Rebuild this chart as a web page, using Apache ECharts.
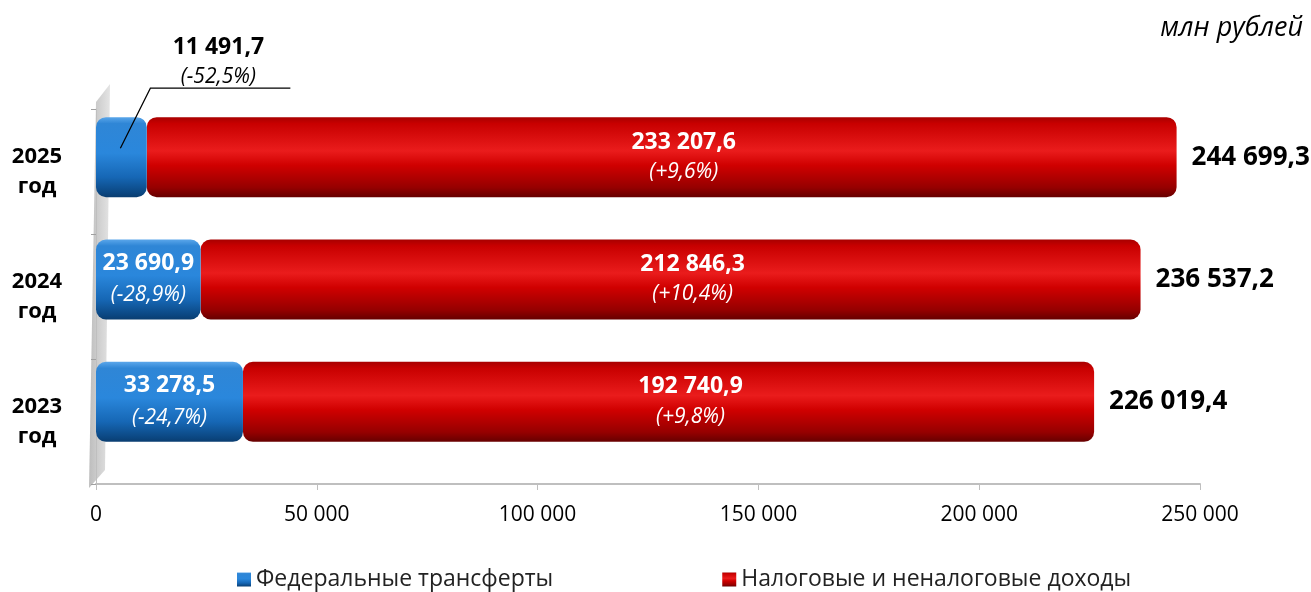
<!DOCTYPE html>
<html><head><meta charset="utf-8">
<script src="https://cdn.jsdelivr.net/npm/echarts@6/dist/echarts.min.js"></script>
<style>html,body{margin:0;padding:0;background:#fff}#c{width:1311px;height:592px}</style>
</head><body><div id="c"></div>
<script>
const categories = ['2023 год', '2024 год', '2025 год'];
const federal = [33278.5, 23690.9, 11491.7];
const federalChange = [-24.7, -28.9, -52.5];
const taxes = [192740.9, 212846.3, 233207.6];
const taxesChange = [9.8, 10.4, 9.6];
const xTicks = [0, 50000, 100000, 150000, 200000, 250000];
const seriesNames = ['Федеральные трансферты', 'Налоговые и неналоговые доходы'];
const unitLabel = 'млн рублей';

const FONT = '"Open Sans", "Noto Sans", sans-serif';
function fmt(v) {
  const s = v.toFixed(1).split('.');
  return s[0].replace(/\B(?=(\d{3})+(?!\d))/g, ' ') + ',' + s[1];
}
function pct(v) {
  return '(' + (v > 0 ? '+' : '') + v.toFixed(1).replace('.', ',') + '%)';
}
const totals = federal.map((v, i) => +(v + taxes[i]).toFixed(1));
const narrow = v => v < 20000;

const blueGrad = new echarts.graphic.LinearGradient(0, 0, 0, 1, [
  {offset: 0, color: '#5aa6ea'}, {offset: 0.08, color: '#2f86d6'},
  {offset: 0.45, color: '#2a87dc'}, {offset: 0.75, color: '#1667b5'},
  {offset: 0.95, color: '#0b4680'}, {offset: 1, color: '#0a3d70'}]);
const redGrad = new echarts.graphic.LinearGradient(0, 0, 0, 1, [
  {offset: 0, color: '#a80000'}, {offset: 0.08, color: '#c80000'},
  {offset: 0.42, color: '#ea1c1c'}, {offset: 0.6, color: '#d00000'},
  {offset: 0.88, color: '#960000'}, {offset: 1, color: '#660000'}]);

const chart = echarts.init(document.getElementById('c'), null, {renderer: 'canvas'});
const option = {
  animation: false,
  textStyle: {fontFamily: FONT},
  title: {
    text: unitLabel, right: 3, top: 10,
    textStyle: {fontFamily: FONT, fontSize: 27, fontStyle: 'italic', fontWeight: 'normal', color: '#000'}
  },
  legend: {
    data: seriesNames, left: 237, top: 568, padding: 0, itemWidth: 14, itemHeight: 14, itemGap: 169,
    icon: 'rect',
    textStyle: {fontFamily: FONT, fontSize: 23, color: '#222'}
  },
  grid: [
    {left: 96, right: 111, top: 109, bottom: 108},
    {left: 96, right: 111, top: 96, bottom: 129}
  ],
  xAxis: [
    {
      type: 'value', gridIndex: 0, min: xTicks[0], max: xTicks[xTicks.length - 1],
      interval: xTicks[1] - xTicks[0],
      axisLine: {show: true, lineStyle: {color: '#bfbfbf', width: 2}},
      axisTick: {show: true, length: 6, lineStyle: {color: '#bfbfbf'}},
      splitLine: {show: false},
      axisLabel: {
        margin: 21, fontSize: 21, color: '#000', fontFamily: FONT,
        formatter: v => String(v).replace(/\B(?=(\d{3})+(?!\d))/g, ' ')
      }
    },
    {
      type: 'value', gridIndex: 1, min: xTicks[0], max: xTicks[xTicks.length - 1],
      show: false
    }
  ],
  yAxis: [
    {
      type: 'category', gridIndex: 0, data: categories, offset: 8,
      axisLine: {show: true, lineStyle: {color: '#bfbfbf', width: 1}},
      axisTick: {show: true, length: 5, lineStyle: {color: '#a0a0a0'}},
      axisLabel: {
        align: 'center', margin: 51, fontSize: 22, fontWeight: 'bold', color: '#000',
        lineHeight: 30, fontFamily: FONT,
        formatter: v => v.replace(' ', '\n')
      }
    },
    {type: 'category', gridIndex: 1, data: categories, show: false}
  ],
  series: [
    {
      name: 'total', type: 'bar', xAxisIndex: 1, yAxisIndex: 1,
      data: totals, barWidth: 80, barGap: '-100%', z: 1, silent: true,
      itemStyle: {color: 'rgba(0,0,0,0)'},
      label: {
        show: true, position: 'right', distance: 15, fontFamily: FONT,
        fontSize: 26, fontWeight: 'bold', color: '#000',
        formatter: p => fmt(p.value)
      }
    },
    {
      name: seriesNames[0], type: 'bar', stack: 'a', xAxisIndex: 1, yAxisIndex: 1,
      data: federal, barWidth: 80, barGap: '-100%', z: 3,
      itemStyle: {color: blueGrad, borderRadius: 10},
      label: {
        show: true, position: 'inside', fontFamily: FONT,
        formatter: p => narrow(p.value)
          ? '{vb|' + fmt(p.value) + '}\n{pb|' + pct(federalChange[p.dataIndex]) + '}'
          : '{vw|' + fmt(p.value) + '}\n{pw|' + pct(federalChange[p.dataIndex]) + '}',
        rich: {
          vw: {fontFamily: FONT, fontSize: 23, fontWeight: 'bold', color: '#fff', lineHeight: 32},
          pw: {fontFamily: FONT, fontSize: 21, fontStyle: 'italic', color: '#fff', lineHeight: 32},
          vb: {fontFamily: FONT, fontSize: 23, fontWeight: 'bold', color: '#000', lineHeight: 29},
          pb: {fontFamily: FONT, fontSize: 21, fontStyle: 'italic', color: '#000', lineHeight: 29}
        }
      },
      labelLayout: p => narrow(federal[p.dataIndex]) ? {dx: 97, dy: -95} : {}
    },
    {
      name: seriesNames[1], type: 'bar', stack: 'a', xAxisIndex: 1, yAxisIndex: 1,
      data: taxes, barWidth: 80, barGap: '-100%', z: 2,
      itemStyle: {color: redGrad, borderRadius: 10},
      label: {
        show: true, position: 'inside', offset: [22, 0], fontFamily: FONT,
        formatter: p => '{v|' + fmt(p.value) + '}\n{p|' + pct(taxesChange[p.dataIndex]) + '}',
        rich: {
          v: {fontFamily: FONT, fontSize: 23, fontWeight: 'bold', color: '#fff', lineHeight: 30},
          p: {fontFamily: FONT, fontSize: 21, fontStyle: 'italic', color: '#fff', lineHeight: 30}
        }
      }
    }
  ],
  graphic: [
    {
      type: 'polygon', z: -1, silent: true,
      shape: {points: [[96, 102], [110, 84], [105, 470], [89, 488]]},
      style: {fill: new echarts.graphic.LinearGradient(0, 0, 1, 0, [
        {offset: 0, color: '#bdbdbd'}, {offset: 1, color: '#e4e4e4'}])}
    }
  ]
};
chart.setOption(option);

// leader line for the narrow federal bar label
const gfx = [];
federal.forEach((v, i) => {
  if (!narrow(v)) return;
  const c = chart.convertToPixel({xAxisIndex: 1, yAxisIndex: 1}, [v / 2, categories[i]]);
  gfx.push({
    type: 'polyline', silent: true, z: 10,
    shape: {points: [[c[0] - 1, c[1] - 9], [c[0] + 29, c[1] - 69], [c[0] + 169, c[1] - 69]]},
    style: {stroke: '#000', lineWidth: 1.2, fill: null}
  });
});
chart.setOption({graphic: option.graphic.concat(gfx)});
</script>
</body></html>
